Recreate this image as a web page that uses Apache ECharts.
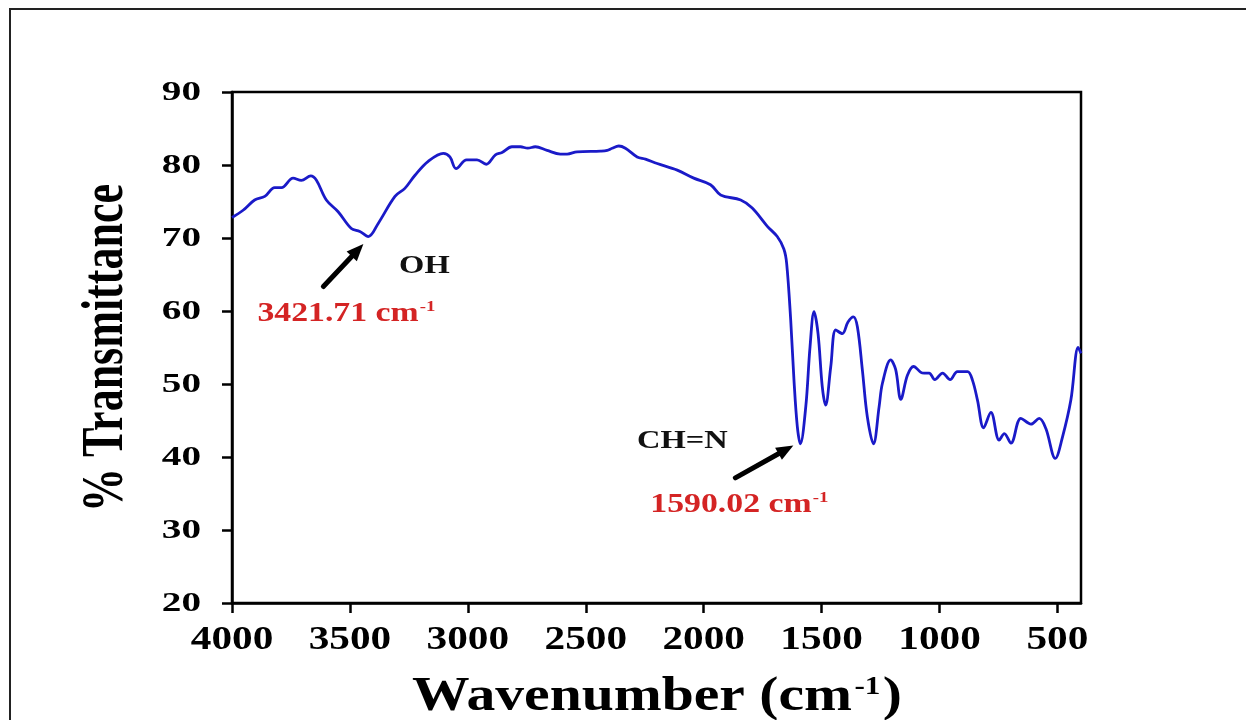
<!DOCTYPE html>
<html>
<head>
<meta charset="utf-8">
<script src="https://cdn.jsdelivr.net/npm/echarts@6/dist/echarts.min.js"></script>
<style>
  html, body { margin: 0; padding: 0; background: #fff; }
  #chart { width: 1246px; height: 720px; }
</style>
</head>
<body>
<div id="chart"></div>
<script>
// FT-IR spectrum: wavenumber (cm^-1) against % transmittance
const wavenumber = [
  4000, 3953, 3904, 3861, 3819, 3790, 3741, 3706, 3666, 3642,
  3600, 3550, 3494, 3458, 3422, 3380, 3309, 3267, 3224, 3168,
  3104, 3076, 3050, 3005, 2961, 2922, 2883, 2855, 2813, 2777,
  2746, 2714, 2664, 2608, 2579, 2537, 2438, 2409, 2388, 2360,
  2332, 2282, 2247, 2197, 2112, 2042, 1971, 1928, 1843, 1794,
  1730, 1688, 1660, 1648, 1631, 1617, 1603, 1590, 1567, 1549,
  1532, 1515, 1497, 1483, 1461, 1440, 1412, 1388, 1365, 1348,
  1327, 1306, 1280, 1256, 1242, 1207, 1186, 1164, 1136, 1110,
  1079, 1065, 1044, 1020, 987, 955, 924, 881, 860, 839,
  813, 782, 747, 725, 697, 655, 612, 577, 549, 509,
  478, 443, 412, 400
];
const transmittance = [
  72.8, 73.8, 75.2, 75.7, 76.9, 76.9, 78.2, 77.9, 78.5, 77.9,
  75.2, 73.6, 71.3, 70.9, 70.2, 72.0, 75.7, 76.8, 78.6, 80.5,
  81.6, 81.1, 79.5, 80.7, 80.7, 80.1, 81.4, 81.7, 82.5, 82.5,
  82.3, 82.5, 82.0, 81.5, 81.5, 81.8, 81.9, 82.0, 82.3, 82.6,
  82.3, 81.1, 80.8, 80.2, 79.3, 78.2, 77.3, 75.9, 75.2, 74.1,
  71.6, 70.2, 68.5, 66.5, 58.8, 50.5, 44.2, 41.8, 46.9, 55.1,
  59.9, 56.9, 49.6, 47.1, 52.4, 57.4, 56.9, 58.5, 59.2, 57.8,
  51.9, 45.5, 41.8, 46.9, 50.1, 53.3, 52.0, 47.9, 51.2, 52.4,
  51.6, 51.5, 51.5, 50.6, 51.5, 50.6, 51.7, 51.7, 50.5, 47.8,
  44.0, 46.1, 42.3, 43.2, 41.9, 45.3, 44.5, 45.3, 43.9, 39.8,
  42.8, 47.8, 55.0, 54.2
];
const xTicks = [4000, 3500, 3000, 2500, 2000, 1500, 1000, 500];
const yTicks = [20, 30, 40, 50, 60, 70, 80, 90];

// Assigned bands
const peakWavenumber = [3421.71, 1590.02];
const peakTransmittance = [70.2, 41.8];
const peakGroup = ['OH', 'CH=N'];

const FONT = '"Liberation Serif", "Times New Roman", serif';
const BLUE = '#1a1ac8';
const RED = '#d42424';

const chart = echarts.init(document.getElementById('chart'), null, { renderer: 'canvas' });

const points = wavenumber.map((w, i) => [w, transmittance[i]]);

chart.setOption({
  backgroundColor: '#ffffff',
  animation: false,
  grid: {
    left: 232, top: 92, right: 165, bottom: 117,
    show: true, borderColor: '#000', borderWidth: 2.5,
    backgroundColor: 'transparent'
  },
  xAxis: {
    type: 'value', min: 400, max: 4000, inverse: true,
    axisLine: { show: true, onZero: false, lineStyle: { color: '#000', width: 2.5 } },
    axisTick: { show: true, customValues: xTicks, length: 10, lineStyle: { color: '#000', width: 2.5 } },
    axisLabel: { show: false, customValues: xTicks },
    splitLine: { show: false }
  },
  yAxis: {
    type: 'value', min: 20, max: 90, interval: 10,
    axisLine: { show: true, onZero: false, lineStyle: { color: '#000', width: 2.5 } },
    axisTick: { show: true, length: 10, lineStyle: { color: '#000', width: 2.5 } },
    axisLabel: { show: false },
    splitLine: { show: false }
  },
  series: [{
    type: 'line',
    data: points,
    showSymbol: false,
    smooth: 0.35,
    lineStyle: { color: BLUE, width: 2.8 },
    z: 3
  }]
});

// Text is drawn as graphic elements so that it can be widened like the axis lettering
function px(w, t) { return chart.convertToPixel({ gridIndex: 0 }, [w, t]); }

const graphics = [];

// outer frame of the figure
graphics.push({
  type: 'rect', shape: { x: 10, y: 9, width: 1300, height: 800 },
  style: { fill: 'none', stroke: '#222', lineWidth: 2 }, silent: true
});

// y tick labels
yTicks.forEach(v => {
  const p = px(4000, v);
  graphics.push({
    type: 'text', x: p[0] - 31, y: p[1] + 1, scaleX: 1.4,
    style: { text: String(v), font: 'bold 28px ' + FONT, fill: '#000', align: 'right', verticalAlign: 'middle' }
  });
});

// x tick labels
xTicks.forEach(v => {
  const p = px(v, 20);
  graphics.push({
    type: 'text', x: p[0], y: p[1] + 37, scaleX: 1.25,
    style: { text: String(v), font: 'bold 33px ' + FONT, fill: '#000', align: 'center', verticalAlign: 'middle' }
  });
});

// axis titles
graphics.push({
  type: 'text', x: 107, y: 348, rotation: Math.PI / 2, scaleY: 1.35,
  style: { text: '% Transmittance', font: 'bold 44px ' + FONT, fill: '#000', align: 'center', verticalAlign: 'middle' }
});
graphics.push({
  type: 'text', x: 657, y: 698, scaleX: 1.2,
  style: {
    text: '{a|Wavenumber (cm}{s|-1}{a|)}',
    align: 'center', verticalAlign: 'middle',
    rich: {
      a: { font: 'bold 48px ' + FONT, fill: '#000' },
      s: { font: 'bold 26px ' + FONT, fill: '#000', verticalAlign: 'top', padding: [0, 2, 22, 2] }
    }
  }
});

// band annotations: arrow, group name and red wavenumber label
const arrowTail = [[-45, 50], [-65, 34]];
const arrowTip = [[-5, 7.5], [-7, 1.6]];
const groupPos = [[56, 30], [-118, -2]];
const labelPos = [[-111, 77], [-150, 61]];

peakWavenumber.forEach((w, i) => {
  const p = px(w, peakTransmittance[i]);
  const tail = [p[0] + arrowTail[i][0], p[1] + arrowTail[i][1]];
  const tip = [p[0] + arrowTip[i][0], p[1] + arrowTip[i][1]];
  const dx = tip[0] - tail[0], dy = tip[1] - tail[1];
  const len = Math.hypot(dx, dy), ux = dx / len, uy = dy / len;
  const headLen = 17, headW = 7;
  const base = [tip[0] - ux * headLen, tip[1] - uy * headLen];
  graphics.push({
    type: 'line', shape: { x1: tail[0], y1: tail[1], x2: base[0] + ux * 2, y2: base[1] + uy * 2 },
    style: { stroke: '#000', lineWidth: 5, lineCap: 'round' }
  });
  graphics.push({
    type: 'polygon',
    shape: { points: [tip, [base[0] - uy * headW, base[1] + ux * headW], [base[0] + uy * headW, base[1] - ux * headW]] },
    style: { fill: '#000' }
  });
  graphics.push({
    type: 'text', x: p[0] + groupPos[i][0], y: p[1] + groupPos[i][1], scaleX: 1.3,
    style: { text: peakGroup[i], font: 'bold 25px ' + FONT, fill: '#111', align: 'center', verticalAlign: 'middle' }
  });
  graphics.push({
    type: 'text', x: p[0] + labelPos[i][0], y: p[1] + labelPos[i][1], scaleX: 1.25,
    style: {
      text: '{a|' + w.toFixed(2) + ' cm}{s|-1}',
      align: 'left', verticalAlign: 'middle',
      rich: {
        a: { font: 'bold 27px ' + FONT, fill: RED },
        s: { font: 'bold 15px ' + FONT, fill: RED, verticalAlign: 'top', padding: [0, 0, 13, 1] }
      }
    }
  });
});

chart.setOption({ graphic: graphics });
</script>
</body>
</html>
